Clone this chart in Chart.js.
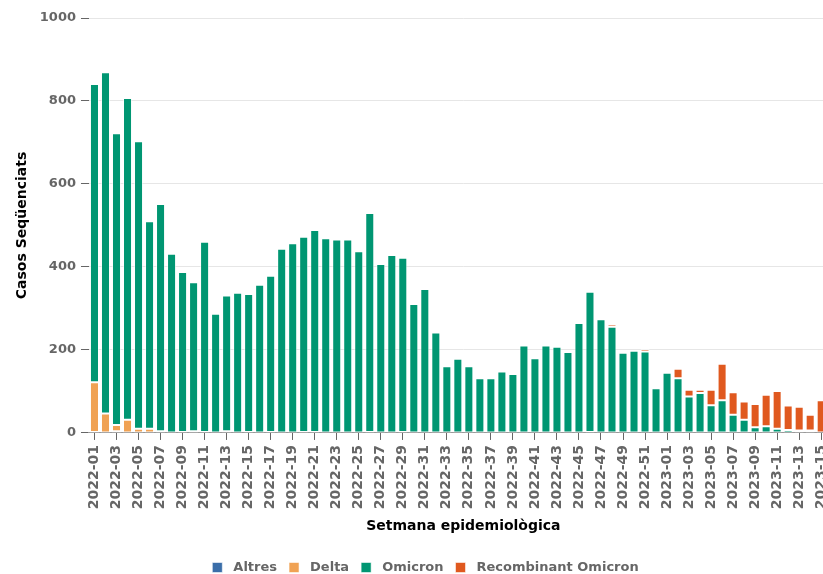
<!DOCTYPE html>
<html>
<head>
<meta charset="utf-8">
<script src="https://cdn.jsdelivr.net/npm/chart.js@4"></script>
<style>
  html, body { margin: 0; padding: 0; background: #fff; overflow: hidden; }
  #wrap { position: relative; width: 843px; height: 584px; }
</style>
</head>
<body>
<div id="wrap"><canvas id="chart"></canvas></div>
<script>
// Setmanes epidemiològiques
const weeks = [
  '2022-01','2022-02','2022-03','2022-04','2022-05','2022-06','2022-07','2022-08','2022-09','2022-10',
  '2022-11','2022-12','2022-13','2022-14','2022-15','2022-16','2022-17','2022-18','2022-19','2022-20',
  '2022-21','2022-22','2022-23','2022-24','2022-25','2022-26','2022-27','2022-28','2022-29','2022-30',
  '2022-31','2022-32','2022-33','2022-34','2022-35','2022-36','2022-37','2022-38','2022-39','2022-40',
  '2022-41','2022-42','2022-43','2022-44','2022-45','2022-46','2022-47','2022-48','2022-49','2022-50',
  '2022-51','2022-52','2023-01','2023-02','2023-03','2023-04','2023-05','2023-06','2023-07','2023-08',
  '2023-09','2023-10','2023-11','2023-12','2023-13','2023-14','2023-15','2023-16'
];

const altres = [
  2, 0, 4, 1, 0, 0, 0, 0, 0, 0,
  0, 0, 1, 0, 0, 0, 0, 0, 1, 0,
  0, 0, 0, 0, 0, 0, 0, 0, 0, 0,
  0, 0, 0, 0, 0, 0, 0, 0, 0, 0,
  0, 0, 0, 0, 0, 0, 0, 0, 0, 0,
  0, 0, 0, 0, 0, 0, 0, 0, 0, 0,
  0, 0, 0, 0, 0, 0, 0, 0
];

const delta = [
  120, 47, 15, 31, 10, 10, 4, 0, 2, 4,
  2, 0, 3, 0, 2, 0, 2, 0, 0, 2,
  2, 0, 0, 0, 0, 2, 0, 0, 2, 0,
  0, 0, 0, 0, 0, 0, 0, 0, 0, 0,
  0, 0, 0, 0, 0, 2, 0, 0, 0, 0,
  0, 0, 0, 0, 0, 0, 0, 0, 0, 0,
  0, 0, 0, 0, 0, 0, 0, 0
];

const omicron = [
  719, 822, 703, 775, 693, 500, 548, 432, 386, 359,
  459, 287, 327, 338, 333, 357, 377, 444, 456, 471,
  487, 469, 466, 466, 438, 528, 407, 429, 420, 311,
  347, 242, 161, 179, 161, 132, 132, 148, 142, 211,
  180, 211, 208, 195, 265, 338, 274, 256, 193, 198,
  196, 108, 145, 132, 88, 96, 67, 79, 44, 32,
  14, 16, 10, 7, 6, 6, 1, 1
];

const recombinant = [
  0, 0, 0, 0, 0, 0, 0, 0, 0, 0,
  0, 0, 0, 0, 0, 3, 0, 0, 4, 0,
  0, 0, 0, 0, 0, 0, 0, 0, 0, 0,
  0, 0, 0, 0, 0, 0, 0, 0, 0, 0,
  3, 0, 0, 0, 0, 3, 0, 6, 5, 0,
  6, 0, 0, 23, 16, 8, 37, 88, 54, 44,
  56, 76, 91, 59, 57, 38, 78, 75
];

const yTicks = [0, 200, 400, 600, 800, 1000];

const FONT = "'DejaVu Sans', sans-serif";
const TXT = '#666666';

function ds(label, data, color) {
  return {
    label: label,
    data: data,
    backgroundColor: color,
    borderColor: 'rgba(255,255,255,0.55)',
    borderWidth: 1,
    borderSkipped: false,
    barPercentage: 0.82,
    categoryPercentage: 1.0
  };
}

new Chart(document.getElementById('chart'), {
  type: 'bar',
  data: {
    labels: weeks,
    datasets: [
      ds('Altres', altres, '#3a6ea9'),
      ds('Delta', delta, '#f0a254'),
      ds('Omicron', omicron, '#009672'),
      ds('Recombinant Omicron', recombinant, '#e0591f')
    ]
  },
  options: {
    responsive: true,
    maintainAspectRatio: false,
    animation: false,
    layout: { padding: { top: 18, left: 8, right: 0, bottom: 0 } },
    plugins: {
      tooltip: { enabled: false },
      legend: {
        position: 'bottom',
        labels: {
          color: TXT,
          boxWidth: 10,
          boxHeight: 10,
          padding: 12,
          font: { family: FONT, size: 13, weight: 'bold' },
          // a bit more room between the square and the text
          generateLabels: function (chart) {
            return Chart.defaults.plugins.legend.labels.generateLabels(chart)
              .map(item => { item.text = ' ' + item.text; return item; });
          }
        }
      }
    },
    scales: {
      x: {
        stacked: true,
        grid: { drawOnChartArea: false, offset: false, tickLength: 7, tickColor: '#666', color: '#666' },
        border: { display: true, color: '#999' },
        ticks: {
          color: TXT,
          autoSkip: false,
          maxRotation: 90,
          minRotation: 90,
          padding: 5,
          font: { family: FONT, size: 14, weight: 'bold' },
          callback: function (v, i) { return i % 2 === 0 ? weeks[i] : null; }
        },
        title: {
          display: true,
          text: 'Setmana epidemiològica',
          color: '#000',
          padding: { top: 4, bottom: 14 },
          font: { family: FONT, size: 14, weight: 'bold' }
        }
      },
      y: {
        stacked: true,
        min: 0,
        max: 1000,
        afterBuildTicks: function (axis) { axis.ticks = yTicks.map(v => ({ value: v })); },
        grid: { color: '#e6e6e6', tickLength: 8, tickColor: '#666' },
        border: { display: false },
        ticks: {
          color: TXT,
          padding: 5,
          font: { family: FONT, size: 13, weight: 'bold' },
          callback: function (v) { return String(v); }
        },
        title: {
          display: true,
          text: 'Casos Seqüenciats',
          color: '#000',
          padding: { top: 6, bottom: 4 },
          font: { family: FONT, size: 14, weight: 'bold' }
        }
      }
    }
  }
});
</script>
</body>
</html>
